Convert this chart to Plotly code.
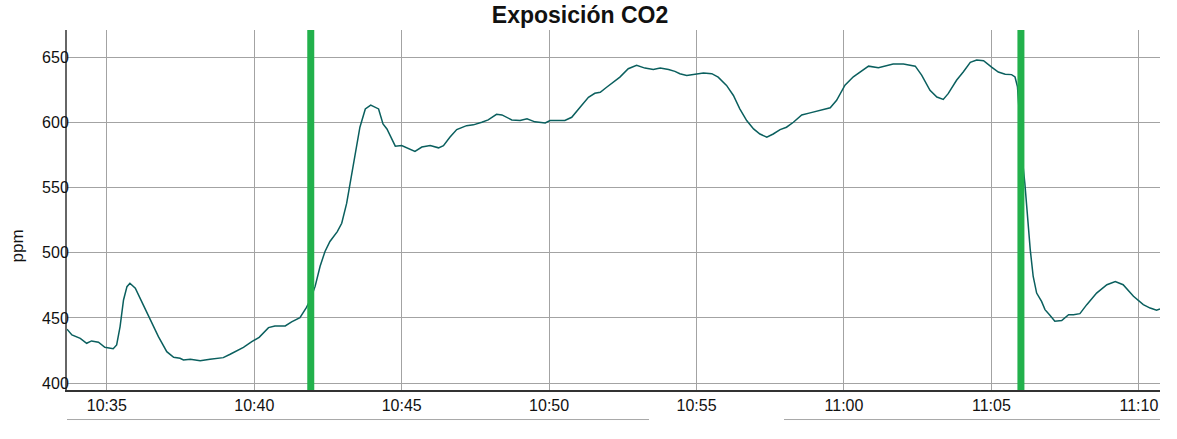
import plotly.graph_objects as go

DAY = "2024-01-01 "

times = [
    "10:33:39", "10:33:49", "10:34:06", "10:34:19", "10:34:29", "10:34:43", "10:34:56", "10:35:13",
    "10:35:20", "10:35:27", "10:35:34", "10:35:41", "10:35:47", "10:35:58", "10:36:11", "10:36:28",
    "10:36:45", "10:37:02", "10:37:16", "10:37:29", "10:37:36", "10:37:50", "10:38:10", "10:38:30",
    "10:38:44", "10:38:57", "10:39:11", "10:39:25", "10:39:38", "10:39:55", "10:40:10", "10:40:29",
    "10:40:42", "10:41:03", "10:41:16", "10:41:33", "10:41:46", "10:41:54", "10:42:04", "10:42:14",
    "10:42:24", "10:42:34", "10:42:49", "10:42:58", "10:43:08", "10:43:15", "10:43:25", "10:43:35",
    "10:43:46", "10:43:57", "10:44:13", "10:44:22", "10:44:30", "10:44:47", "10:45:00", "10:45:14",
    "10:45:27", "10:45:41", "10:45:58", "10:46:15", "10:46:25", "10:46:38", "10:46:52", "10:47:12",
    "10:47:26", "10:47:43", "10:47:56", "10:48:13", "10:48:24", "10:48:44", "10:49:01", "10:49:15",
    "10:49:31", "10:49:52", "10:50:02", "10:50:32", "10:50:46", "10:51:03", "10:51:20", "10:51:33",
    "10:51:44", "10:51:57", "10:52:14", "10:52:24", "10:52:41", "10:52:58", "10:53:15", "10:53:32",
    "10:53:46", "10:54:03", "10:54:16", "10:54:26", "10:54:40", "10:54:57", "10:55:14", "10:55:31",
    "10:55:44", "10:56:01", "10:56:15", "10:56:28", "10:56:42", "10:56:56", "10:57:09", "10:57:23",
    "10:57:36", "10:57:50", "10:58:03", "10:58:17", "10:58:34", "10:58:51", "10:59:11", "10:59:32",
    "10:59:45", "11:00:02", "11:00:19", "11:00:33", "11:00:50", "11:01:10", "11:01:24", "11:01:40",
    "11:02:01", "11:02:25", "11:02:38", "11:02:55", "11:03:09", "11:03:22", "11:03:32", "11:03:49",
    "11:04:03", "11:04:17", "11:04:30", "11:04:44", "11:05:01", "11:05:14", "11:05:28", "11:05:41",
    "11:05:48", "11:05:53", "11:05:58", "11:06:02", "11:06:08", "11:06:13", "11:06:19", "11:06:25",
    "11:06:32", "11:06:42", "11:06:49", "11:06:59", "11:07:09", "11:07:23", "11:07:37", "11:07:47",
    "11:08:00", "11:08:14", "11:08:34", "11:08:55", "11:09:12", "11:09:28", "11:09:49", "11:10:09",
    "11:10:23", "11:10:36", "11:10:43",
]

co2_ppm = [
    441.4, 437.0, 434.4, 430.6, 432.4, 431.4, 427.5, 426.5,
    429.3, 443.4, 463.8, 474.0, 476.6, 472.8, 462.5, 448.5,
    435.7, 424.2, 419.9, 419.1, 417.8, 418.3, 417.3, 418.3,
    419.1, 419.6, 422.2, 424.9, 427.5, 431.8, 435.2, 442.6,
    443.9, 443.9, 447.0, 450.3, 457.9, 463.8, 474.4, 489.6,
    501.0, 508.6, 516.2, 522.6, 537.8, 553.0, 575.9, 596.2,
    610.2, 613.2, 610.2, 598.7, 594.9, 581.7, 582.2, 579.7,
    577.7, 581.0, 582.2, 580.4, 582.1, 588.5, 594.4, 597.4,
    598.0, 600.0, 601.8, 606.1, 605.6, 601.8, 601.3, 602.6,
    600.3, 599.5, 601.3, 601.3, 603.8, 611.5, 619.1, 622.2,
    623.0, 626.8, 631.9, 634.6, 641.0, 643.6, 641.5, 640.5,
    641.5, 640.5, 639.0, 637.2, 635.9, 636.9, 637.7, 637.2,
    634.6, 628.2, 620.5, 610.3, 601.3, 594.9, 591.0, 588.5,
    591.0, 594.4, 596.2, 600.0, 605.6, 607.2, 609.0, 611.1,
    616.8, 628.4, 634.8, 638.7, 643.0, 641.8, 643.0, 644.6,
    644.6, 643.0, 636.1, 624.5, 619.3, 617.5, 621.9, 632.2,
    638.7, 645.9, 647.7, 647.2, 642.0, 638.5, 636.8, 636.5,
    634.7, 627.1, 600.0, 575.0, 553.2, 527.7, 502.2, 481.8,
    469.1, 462.7, 456.4, 452.0, 447.5, 448.0, 452.5, 452.5,
    453.3, 460.2, 469.1, 475.5, 478.0, 475.5, 466.6, 460.2,
    457.6, 455.9, 456.9,
]

markers = ["10:41:55", "11:06:00"]

x_range = ["10:33:39", "11:10:43"]
y_range = [394.8, 670.7]
tick_start = "10:35:00"

title_text = "Exposición CO2"
y_label = "ppm"

GREEN = "#22b14c"
LINE = "#0a5f5e"
GRID = "#a3a3a3"

fig = go.Figure()
fig.add_trace(go.Scatter(
    x=[DAY + t for t in times], y=co2_ppm, mode="lines",
    line=dict(color=LINE, width=1.5), showlegend=False,
))

for m in markers:
    fig.add_shape(type="line", xref="x", yref="paper",
                  x0=DAY + m, x1=DAY + m, y0=0, y1=1,
                  line=dict(color=GREEN, width=7))

# stray separator lines beneath the axis
for a, b in [(0.0, 0.5325), (0.656, 1.0)]:
    fig.add_shape(type="line", xref="paper", yref="paper",
                  x0=a, x1=b, y0=-0.082, y1=-0.082,
                  line=dict(color="#a8a8a8", width=1))

fig.add_annotation(text=y_label, xref="paper", yref="paper",
                   x=-0.0453, y=0.40, xanchor="center", yanchor="middle",
                   textangle=-90, showarrow=False,
                   font=dict(size=17, color="#111"))

fig.update_layout(
    width=1177, height=439,
    margin=dict(l=67, r=17, t=30, b=49),
    paper_bgcolor="white", plot_bgcolor="white",
    font=dict(family="Liberation Sans, Arial, sans-serif", size=16, color="#111"),
    title=dict(text="<b>" + title_text + "</b>", x=0.4928, xref="container",
               xanchor="center", y=0.967, yref="container", yanchor="middle",
               font=dict(size=23, color="#111")),
    xaxis=dict(type="date", range=[DAY + x_range[0], DAY + x_range[1]],
               tick0=DAY + tick_start, dtick=300000, tickformat="%H:%M",
               showgrid=True, gridcolor=GRID, gridwidth=1.3,
               showline=True, linecolor="#333", linewidth=1.5,
               ticks="", zeroline=False),
    yaxis=dict(range=y_range, tick0=400, dtick=50,
               showgrid=True, gridcolor=GRID, gridwidth=1.3,
               showline=True, linecolor="#666", linewidth=2,
               ticks="", ticklabelstandoff=-7, zeroline=False),
)

fig.write_html("out.html", config={"displayModeBar": False},
               post_script="document.body.style.margin='0';")
